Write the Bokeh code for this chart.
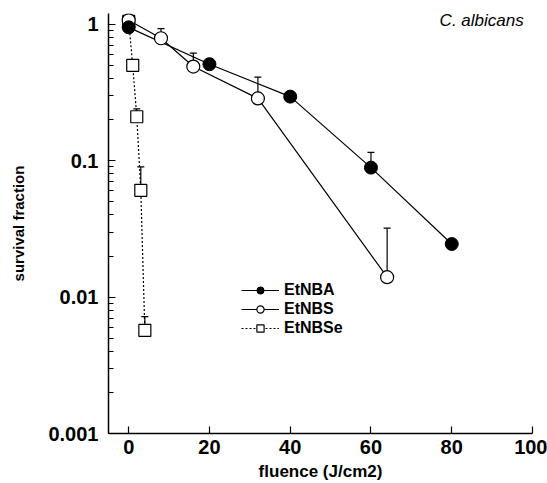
from bokeh.plotting import figure
from bokeh.models import (ColumnDataSource, Whisker, TeeHead, Legend, LegendItem,
                          FixedTicker, LogTicker, CustomJSTickFormatter, Label, Range1d)
from bokeh.embed import file_html
from bokeh.resources import INLINE

# --- data ---
etnba_x = [0, 20, 40, 60, 80]
etnba_y = [0.95, 0.51, 0.295, 0.089, 0.0245]
etnba_err_x = [20, 60, 80]
etnba_err_base = [0.51, 0.089, 0.0245]
etnba_err_up = [0.56, 0.115, 0.026]

etnbs_x = [0, 8, 16, 32, 64]
etnbs_y = [1.07, 0.79, 0.49, 0.286, 0.014]
etnbs_err_x = [8, 16, 32, 64]
etnbs_err_base = [0.79, 0.49, 0.286, 0.014]
etnbs_err_up = [0.93, 0.615, 0.41, 0.032]

etnbse_x = [0, 1, 2, 3, 4]
etnbse_y = [1.05, 0.50, 0.21, 0.0606, 0.0057]
etnbse_err_x = [1, 2, 3, 4]
etnbse_err_base = [0.50, 0.21, 0.0606, 0.0057]
etnbse_err_up = [0.52, 0.24, 0.09, 0.0072]

x_ticks = [0, 20, 40, 60, 80, 100]
FONT = "Liberation Sans"

p = figure(width=547, height=483, output_backend="svg", toolbar_location=None,
           y_axis_type="log", x_range=Range1d(-5, 100), y_range=Range1d(0.001, 1.2),
           min_border_left=108, min_border_right=15, min_border_top=13, min_border_bottom=50)
p.outline_line_color = None
p.grid.visible = False
p.background_fill_color = "white"
p.border_fill_color = "white"

# lines
l1 = p.line(etnba_x, etnba_y, line_color="black", line_width=1.2)
l2 = p.line(etnbs_x, etnbs_y, line_color="black", line_width=1.2)
l3 = p.line(etnbse_x, etnbse_y, line_color="black", line_width=1.2, line_dash="2 2")

# markers (squares first so the circles sit on top at fluence 0)
m3 = p.scatter(etnbse_x, etnbse_y, marker="square", size=12, fill_color="white", line_color="black", line_width=1.2)
m2 = p.scatter(etnbs_x, etnbs_y, marker="circle", size=13, fill_color="white", line_color="black", line_width=1.2)
m1 = p.scatter(etnba_x, etnba_y, marker="circle", size=13, fill_color="black", line_color="black")

# error bars (upper only)
for ex, eb, eu in [(etnba_err_x, etnba_err_base, etnba_err_up),
                   (etnbs_err_x, etnbs_err_base, etnbs_err_up),
                   (etnbse_err_x, etnbse_err_base, etnbse_err_up)]:
    src = ColumnDataSource(dict(x=ex, lo=eb, up=eu))
    w = Whisker(source=src, base="x", lower="lo", upper="up", dimension="height",
                line_color="black", line_width=1.2,
                upper_head=TeeHead(size=7, line_color="black", line_width=1.2),
                lower_head=None)
    p.add_layout(w)

# axes
xa = p.xaxis[0]
xa.ticker = FixedTicker(ticks=x_ticks, minor_ticks=[])
ya = p.yaxis[0]
ya.ticker = LogTicker(num_minor_ticks=10)
ya.formatter = CustomJSTickFormatter(code="return String(Number(tick.toPrecision(3)));")
for ax in (xa, ya):
    ax.axis_line_width = 1.5
    ax.axis_line_color = "black"
    ax.major_tick_in = 7
    ax.major_tick_out = 0
    ax.minor_tick_in = 5
    ax.minor_tick_out = 0
    ax.major_tick_line_color = "black"
    ax.minor_tick_line_color = "black"
    ax.major_tick_line_width = 1.2
    ax.major_label_text_font = FONT
    ax.major_label_text_font_style = "bold"
    ax.major_label_text_font_size = "20px"
    ax.major_label_text_color = "black"
    ax.axis_label_text_font = FONT
    ax.axis_label_text_font_style = "bold"
    ax.axis_label_text_color = "black"
xa.major_label_standoff = 6
ya.major_label_standoff = 10
xa.axis_label = "fluence (J/cm2)"
xa.axis_label_text_font_size = "17px"
xa.axis_label_standoff = 5
ya.axis_label = "survival fraction"
ya.axis_label_text_font_size = "15px"
ya.axis_label_standoff = 18

# title text
p.add_layout(Label(x=77, y=1.07, text="C. albicans", text_font=FONT, text_font_style="italic",
                   text_font_size="17px", text_align="left", text_baseline="middle", text_color="black"))

legend = Legend(items=[LegendItem(label="EtNBA", renderers=[l1, m1]),
                       LegendItem(label="EtNBS", renderers=[l2, m2]),
                       LegendItem(label="EtNBSe", renderers=[l3, m3])],
                location=(133, 96), border_line_color=None, background_fill_alpha=0,
                label_text_font=FONT, label_text_font_style="bold", label_text_font_size="16px",
                label_text_color="black",
                glyph_width=38, glyph_height=18, label_height=18, spacing=1, padding=0, margin=0,
                label_standoff=5)
p.add_layout(legend)

open("out.html", "w").write(file_html(p, INLINE))
